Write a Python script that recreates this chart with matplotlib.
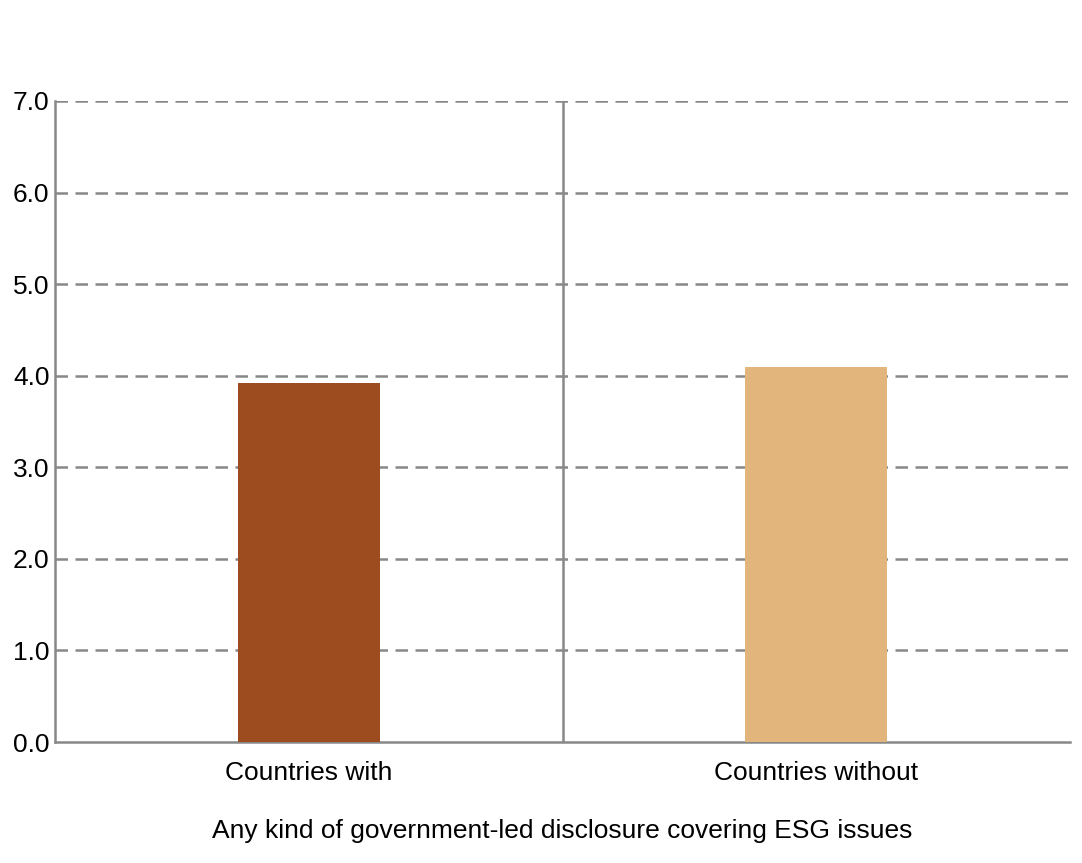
import matplotlib
matplotlib.use("Agg")
import matplotlib.pyplot as plt
import numpy as np

categories = ["Countries with", "Countries without"]
values = [3.92, 4.09]
colors = ["#9c4c1f", "#e2b57c"]
yticks = [0, 1, 2, 3, 4, 5, 6, 7]
xlabel = "Any kind of government-led disclosure covering ESG issues"

fig = plt.figure(figsize=(10.82, 8.63), dpi=100)
ax = fig.add_axes([55/1082, 1-742/863, 1015/1082, 641/863])
x = np.arange(len(categories))
ax.bar(x, values, width=0.28, color=colors, zorder=3)
ax.set_xlim(-0.5, 1.5)
ax.set_ylim(0, 7)
ax.set_yticks(yticks)
ax.set_yticklabels([f"{v:.1f}" for v in yticks], fontsize=19, family="Liberation Sans")
ax.set_xticks(x)
ax.set_xticklabels(categories, fontsize=19, family="Liberation Sans")
ax.tick_params(length=0)
ax.tick_params(axis="x", pad=14)
ax.tick_params(axis="y", pad=4)
for y in yticks[1:]:
    ax.axhline(y, color="#888888", ls=(0, (5, 3)), lw=1.8, zorder=1)
ax.axvline(0.5, color="#888888", lw=1.8, zorder=1)
for s in ["top", "right"]:
    ax.spines[s].set_visible(False)
for s in ["left", "bottom"]:
    ax.spines[s].set_color("#888888")
    ax.spines[s].set_linewidth(1.8)
ax.set_xlabel(xlabel, fontsize=19, family="Liberation Sans", labelpad=24)
fig.savefig("out.png", dpi=100)
